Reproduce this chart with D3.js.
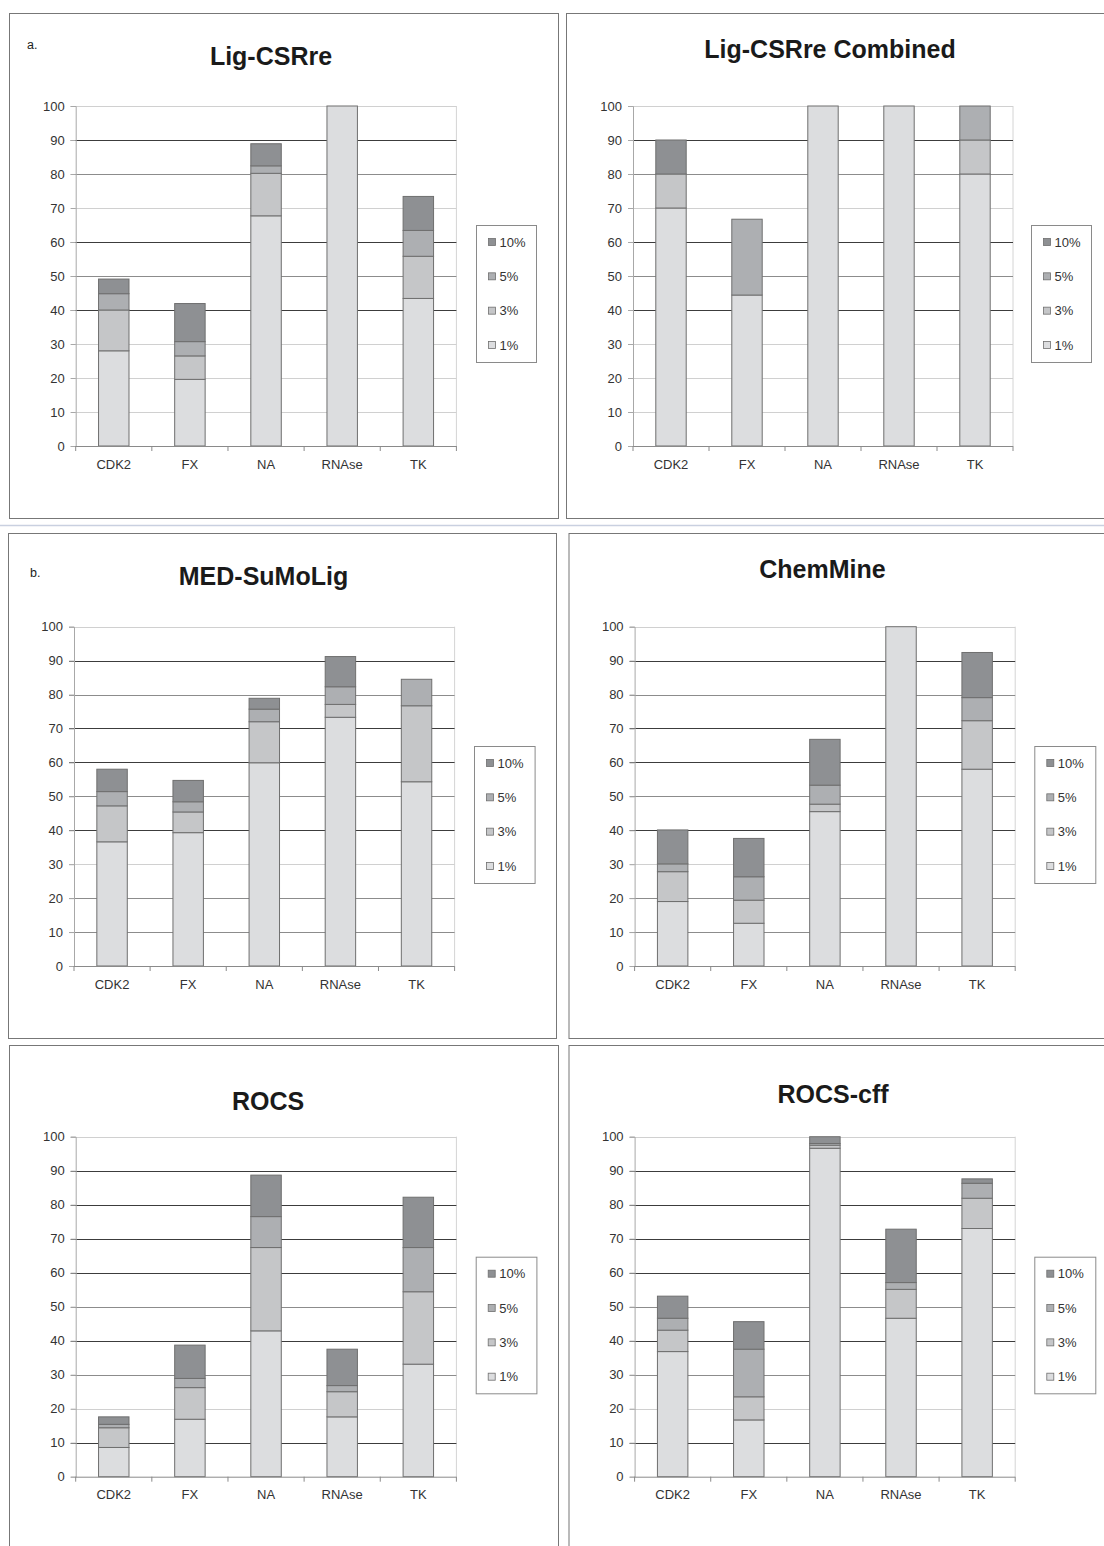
<!DOCTYPE html>
<html>
<head>
<meta charset="utf-8">
<script src="https://cdn.jsdelivr.net/npm/d3@7"></script>
<style>
  body { margin: 0; background: #fff; }
  svg { display: block; font-family: "Liberation Sans", Arial, sans-serif; }
</style>
</head>
<body>
<div id="chart"></div>
<script>
// categories / series
const categories = ['CDK2', 'FX', 'NA', 'RNAse', 'TK'];
const thresholds = ['1%', '3%', '5%', '10%'];
const yTicks = [0, 10, 20, 30, 40, 50, 60, 70, 80, 90, 100];

// stacked segment values per threshold
const ligCSRre = {
  '1%':  [28.0, 19.6, 67.7, 100, 43.4],
  '3%':  [12.0, 6.9, 12.5, 0, 12.4],
  '5%':  [4.8, 4.2, 2.2, 0, 7.6],
  '10%': [4.3, 11.2, 6.5, 0, 10.0]
};
const ligCSRreCombined = {
  '1%':  [70, 44.4, 100, 100, 80],
  '3%':  [10, 0, 0, 0, 10],
  '5%':  [0, 22.3, 0, 0, 10],
  '10%': [10, 0, 0, 0, 0]
};
const medSuMoLig = {
  '1%':  [36.6, 39.3, 59.9, 73.3, 54.3],
  '3%':  [10.6, 6.1, 12.1, 3.8, 22.4],
  '5%':  [4.2, 3.0, 3.7, 5.2, 7.8],
  '10%': [6.6, 6.3, 3.2, 8.9, 0]
};
const chemMine = {
  '1%':  [19.0, 12.6, 45.5, 100, 58.0],
  '3%':  [8.8, 6.8, 2.2, 0, 14.3],
  '5%':  [2.3, 6.9, 5.6, 0, 6.8],
  '10%': [10.0, 11.3, 13.5, 0, 13.3]
};
const rocs = {
  '1%':  [8.6, 16.9, 42.9, 17.6, 33.1],
  '3%':  [5.8, 9.3, 24.5, 7.4, 21.3],
  '5%':  [1.0, 2.7, 9.1, 1.8, 13.0],
  '10%': [2.2, 9.8, 12.2, 10.7, 14.8]
};
const rocsCff = {
  '1%':  [36.8, 16.7, 96.6, 46.6, 73.0],
  '3%':  [6.3, 6.8, 0.9, 8.5, 8.9],
  '5%':  [3.5, 14.0, 0.5, 2.0, 4.4],
  '10%': [6.5, 8.1, 2.0, 15.7, 1.3]
};

const colors = { '1%': '#dcdddf', '3%': '#c5c6c8', '5%': '#adafb2', '10%': '#8e9093' };

// gridline tones (dark / mid / light)
const tone = { d: '#3c3c3c', m: '#8c8c8c', l: '#d0d0d0' };
const gridRows = [
  { 10: 'l', 20: 'l', 30: 'l', 40: 'd', 50: 'm', 60: 'd', 70: 'l', 80: 'm', 90: 'd', 100: 'l' },
  { 10: 'm', 20: 'm', 30: 'l', 40: 'd', 50: 'm', 60: 'd', 70: 'd', 80: 'm', 90: 'd', 100: 'l' },
  { 10: 'd', 20: 'l', 30: 'm', 40: 'd', 50: 'm', 60: 'd', 70: 'd', 80: 'd', 90: 'd', 100: 'l' }
];

const panels = [
  { title: 'Lig-CSRre', data: ligCSRre, tag: 'a.', row: 0,
    frame: [9, 13, 558, 518], plot: [75.7, 456.4, 106, 446], legend: [476, 225, 60, 137], tx: 271, ty: 65, tagPos: [27, 49] },
  { title: 'Lig-CSRre Combined', data: ligCSRreCombined, row: 0,
    frame: [566, 13, 1110, 518], plot: [633, 1013, 106, 446], legend: [1031, 225, 60, 137], tx: 830, ty: 58 },
  { title: 'MED-SuMoLig', data: medSuMoLig, tag: 'b.', row: 1,
    frame: [8, 533, 556, 1038], plot: [74, 454.6, 626.7, 966], legend: [474, 746, 60.6, 137], tx: 263.5, ty: 585, tagPos: [30, 577] },
  { title: 'ChemMine', data: chemMine, row: 1,
    frame: [568.5, 533, 1110, 1038], plot: [634.6, 1015.2, 626.7, 966], legend: [1034.3, 746, 61, 137], tx: 822.5, ty: 578 },
  { title: 'ROCS', data: rocs, row: 2,
    frame: [9, 1045, 558, 1560], plot: [75.7, 456.4, 1136.7, 1476.7], legend: [475.7, 1256.7, 60.7, 136.6], tx: 268, ty: 1110 },
  { title: 'ROCS-cff', data: rocsCff, row: 2,
    frame: [568.5, 1045, 1110, 1560], plot: [634.6, 1015.2, 1136.7, 1476.7], legend: [1034.3, 1256.7, 61, 136.6], tx: 833, ty: 1103 }
];

const W = 1104, H = 1546;
const svg = d3.select('#chart').append('svg').attr('width', W).attr('height', H);
svg.append('rect').attr('width', W).attr('height', H).attr('fill', '#fff');

// separator between the a. and b. blocks
svg.append('line')
  .attr('x1', 0).attr('x2', W).attr('y1', 525.5).attr('y2', 525.5)
  .attr('stroke', '#c9d0e0').attr('stroke-width', 1.5);

const stack = d3.stack().keys(thresholds);

panels.forEach(p => {
  const g = svg.append('g');
  const [fx0, fy0, fx1, fy1] = p.frame;

  g.append('rect')
    .attr('x', fx0 + 0.5).attr('y', fy0 + 0.5)
    .attr('width', fx1 - fx0).attr('height', fy1 - fy0)
    .attr('fill', 'none').attr('stroke', '#777').attr('stroke-width', 1);

  if (p.tag) {
    g.append('text').attr('x', p.tagPos[0]).attr('y', p.tagPos[1])
      .attr('font-size', 12.5).attr('fill', '#222').text(p.tag);
  }

  g.append('text').attr('x', p.tx).attr('y', p.ty)
    .attr('text-anchor', 'middle').attr('font-size', 25).attr('font-weight', 'bold')
    .attr('fill', '#1a1a1a').text(p.title);

  const [left, right, top, bottom] = p.plot;
  const x = d3.scaleBand().domain(categories).range([left, right]).padding(0);
  const y = d3.scaleLinear().domain([0, 100]).range([bottom, top]);
  const barW = x.bandwidth() * 0.4;

  // plot area border (right side)
  g.append('line').attr('x1', right).attr('x2', right).attr('y1', top).attr('y2', bottom)
    .attr('stroke', '#d4d4d4');

  // gridlines
  const grid = gridRows[p.row];
  g.append('g').selectAll('line').data(yTicks.filter(t => t > 0)).join('line')
    .attr('x1', left - 5).attr('x2', right)
    .attr('y1', d => Math.round(y(d)) + 0.5).attr('y2', d => Math.round(y(d)) + 0.5)
    .attr('stroke', d => tone[grid[d]]).attr('stroke-width', 1);

  // y axis
  const yAxis = d3.axisLeft(y).tickValues(yTicks).tickSize(5).tickPadding(6);
  const ya = g.append('g').attr('transform', `translate(${left},0)`).call(yAxis);
  ya.select('.domain').attr('stroke', '#a8a8a8');
  ya.selectAll('.tick line').attr('stroke', '#a8a8a8');
  ya.selectAll('.tick text').attr('font-size', 13).attr('fill', '#333')
    .attr('font-family', '"Liberation Sans", Arial, sans-serif');

  // bars
  const rows = categories.map((c, i) => {
    const r = { cat: c };
    thresholds.forEach(t => { r[t] = p.data[t][i]; });
    return r;
  });
  const series = stack(rows);
  g.append('g').selectAll('g').data(series).join('g')
    .attr('fill', s => colors[s.key])
    .selectAll('rect').data(s => s.filter(d => d[1] - d[0] > 0)).join('rect')
    .attr('x', d => x(d.data.cat) + (x.bandwidth() - barW) / 2)
    .attr('width', barW)
    .attr('y', d => y(d[1]))
    .attr('height', d => y(d[0]) - y(d[1]))
    .attr('stroke', '#6f6f6f').attr('stroke-width', 1);

  // x axis
  const xa = g.append('g').attr('transform', `translate(0,${bottom})`);
  xa.append('line').attr('x1', left).attr('x2', right).attr('y1', 0.5).attr('y2', 0.5)
    .attr('stroke', '#8a8a8a');
  const bounds = categories.map(c => x(c)).concat([right]);
  xa.selectAll('line.tk').data(bounds).join('line').attr('class', 'tk')
    .attr('x1', d => d).attr('x2', d => d).attr('y1', 0).attr('y2', 5)
    .attr('stroke', '#8a8a8a');
  xa.selectAll('text').data(categories).join('text')
    .attr('x', d => x(d) + x.bandwidth() / 2).attr('y', 18)
    .attr('dy', '0.35em').attr('text-anchor', 'middle')
    .attr('font-size', 13).attr('fill', '#333').text(d => d);

  // legend
  const [lx, ly, lw, lh] = p.legend;
  const lg = g.append('g').attr('transform', `translate(${lx},${ly})`);
  lg.append('rect').attr('x', 0.5).attr('y', 0.5).attr('width', lw).attr('height', lh)
    .attr('fill', '#fff').attr('stroke', '#8a8a8a');
  const items = thresholds.slice().reverse();
  const ly0 = 17, lstep = (120 - 17) / 3;
  const li = lg.selectAll('g.item').data(items).join('g').attr('class', 'item')
    .attr('transform', (d, i) => `translate(12.5,${ly0 + i * lstep})`);
  li.append('rect').attr('x', 0).attr('y', -3.5).attr('width', 7).attr('height', 7)
    .attr('fill', d => colors[d]).attr('stroke', '#6f6f6f').attr('stroke-width', 0.8);
  li.append('text').attr('x', 11).attr('dy', '0.35em')
    .attr('font-size', 13).attr('fill', '#333').text(d => d);
});
</script>
</body>
</html>
